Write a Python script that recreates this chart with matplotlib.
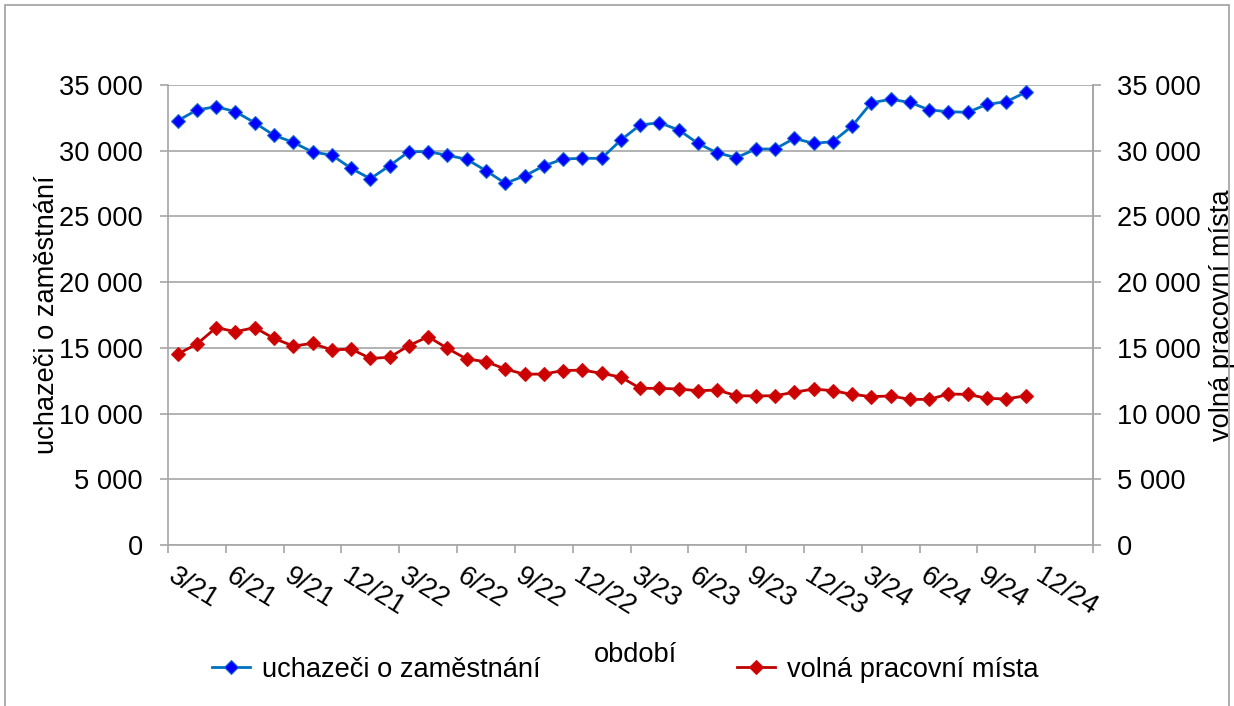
import numpy as np
import matplotlib.pyplot as plt
from matplotlib.ticker import FuncFormatter, MultipleLocator
from matplotlib.patches import Rectangle

plt.rcParams['font.family'] = ['Liberation Sans', 'DejaVu Sans']

# monthly values 3/21 .. 11/24
uchazeci = [32280, 33100, 33350, 32970, 32130, 31170, 30640, 29900, 29670, 28660,
            27870, 28860, 29930, 29930, 29650, 29350, 28480, 27520, 28080, 28840,
            29370, 29420, 29420, 30810, 31960, 32130, 31580, 30560, 29830, 29470,
            30130, 30130, 30940, 30560, 30690, 31880, 33650, 33910, 33680, 33100,
            32970, 32920, 33530, 33730, 34440]
volna_mista = [14530, 15290, 16540, 16230, 16540, 15720, 15140, 15340, 14840, 14910,
               14200, 14280, 15170, 15850, 14960, 14150, 13950, 13390, 12990, 13010,
               13270, 13310, 13060, 12780, 11920, 11920, 11870, 11740, 11790, 11360,
               11340, 11360, 11620, 11870, 11740, 11460, 11290, 11340, 11080, 11080,
               11490, 11460, 11160, 11110, 11360]
tick_labels = ['3/21', '6/21', '9/21', '12/21', '3/22', '6/22', '9/22', '12/22',
               '3/23', '6/23', '9/23', '12/23', '3/24', '6/24', '9/24', '12/24']
n_categories = 48  # months 3/21 .. 2/25 on the category axis

grey = '#A6A6A6'
fs = 19.6

fig = plt.figure(figsize=(12.34, 7.06), dpi=100)
ax = fig.add_axes([168/1234, 1 - 545/706, 925/1234, 460/706])

x = np.arange(len(uchazeci))
ax.plot(x, uchazeci, color='#0070C0', lw=2, marker='D', ms=7.4,
        mfc='#0000FF', mec='#1F6FD0', mew=0.8, label='uchazeči o zaměstnání', zorder=3)
ax.plot(x, volna_mista, color='#C00000', lw=2, marker='D', ms=7.4,
        mfc='#CC0000', mec='#D01010', mew=0.8, label='volná pracovní místa', zorder=3)

# axes limits and grid
ax.set_xlim(-0.5, n_categories - 0.5)
ax.set_ylim(0, 35000)
ax.yaxis.set_major_locator(MultipleLocator(5000))
fmt = FuncFormatter(lambda v, p: f'{int(v):,}'.replace(',', ' '))
ax.yaxis.set_major_formatter(fmt)
ax.grid(axis='y', color=grey, lw=1.2)
ax.set_axisbelow(True)

# x ticks: marks between categories, labels on every third month
ax.set_xticks(np.arange(0, n_categories, 3))
ax.set_xticklabels(tick_labels, rotation=-32, ha='left', va='top',
                   rotation_mode='anchor', fontsize=fs)
ax.set_xticks(np.arange(-0.5, n_categories, 3), minor=True)
ax.tick_params(axis='x', which='major', length=0, pad=13)
ax.tick_params(axis='x', which='minor', length=6, color=grey, width=1.2)
ax.tick_params(axis='y', length=6, color=grey, width=1.2, pad=12, labelsize=fs)

ax.spines['top'].set_visible(False)
for s in ['left', 'right', 'bottom']:
    ax.spines[s].set_color(grey)
    ax.spines[s].set_linewidth(1.2)

ax.set_ylabel('uchazeči o zaměstnání', fontsize=fs)
ax.yaxis.set_label_coords(-0.117, 0.5)

# right axis with the same scale
ax2 = ax.twinx()
ax2.set_ylim(0, 35000)
ax2.yaxis.set_major_locator(MultipleLocator(5000))
ax2.yaxis.set_major_formatter(fmt)
ax2.tick_params(axis='y', length=6, color=grey, width=1.2, pad=11, labelsize=fs)
for s in ['top', 'left', 'bottom']:
    ax2.spines[s].set_visible(False)
ax2.spines['right'].set_color(grey)
ax2.spines['right'].set_linewidth(1.2)
ax2.set_ylabel('volná pracovní místa', fontsize=fs)
ax2.yaxis.set_label_coords(1.125, 0.5)

fig.text(636/1234, 1 - 655/706, 'období', ha='center', va='center', fontsize=fs)

h, l = ax.get_legend_handles_labels()
fig.legend(h, l, ncol=2, loc='center', bbox_to_anchor=(625/1234, 1 - 670/706),
           frameon=False, fontsize=fs, handlelength=1.4, handletextpad=0.45,
           columnspacing=7.2, borderpad=0)

# chart area border
fig.patches.append(Rectangle((5/1234, -0.05), 1224/1234, 1 - 5/706 + 0.05,
                             transform=fig.transFigure, fill=False,
                             edgecolor='#A0A0A0', lw=1.2))

fig.savefig('out.png', dpi=100)
